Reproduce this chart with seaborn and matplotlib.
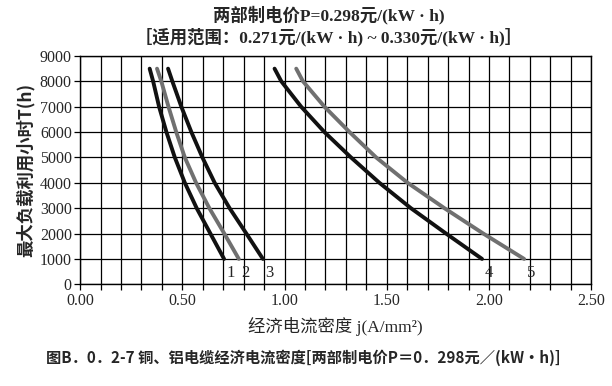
import numpy as np
import pandas as pd
import matplotlib
matplotlib.use("Agg")
import matplotlib.pyplot as plt
import seaborn as sns
from matplotlib.ticker import MultipleLocator

# hours (y) shared by every curve
hours = [8500, 8000, 7000, 6000, 5000, 4000, 3000, 2000, 1000]

# current density j for each curve
curve1 = [0.340, 0.357, 0.386, 0.422, 0.463, 0.512, 0.570, 0.637, 0.704]
curve2 = [0.376, 0.397, 0.432, 0.470, 0.512, 0.567, 0.632, 0.705, 0.776]
curve3 = [0.430, 0.451, 0.495, 0.544, 0.598, 0.658, 0.731, 0.813, 0.894]
curve4 = [0.951, 0.984, 1.081, 1.195, 1.325, 1.464, 1.618, 1.790, 1.966]
curve5 = [1.057, 1.090, 1.195, 1.318, 1.448, 1.602, 1.782, 1.972, 2.172]

curve_names = ["1", "2", "3", "4", "5"]
curve_colors = {"1": "#111111", "2": "#707070", "3": "#111111", "4": "#111111", "5": "#707070"}

rows = []
for name, vals in zip(curve_names, [curve1, curve2, curve3, curve4, curve5]):
    for j, h in zip(vals, hours):
        rows.append({"curve": name, "j": j, "T": h})
df = pd.DataFrame(rows)

sns.set_style("ticks")
plt.rcParams['font.family'] = ['Liberation Serif', 'Noto Sans CJK SC']

fig = plt.figure(figsize=(6.12, 3.86), dpi=100)
ax = fig.add_axes([0.131, 0.2635, 0.835, 0.5915])

sns.lineplot(data=df, x="j", y="T", hue="curve", palette=curve_colors,
             linewidth=2.8, legend=False, ax=ax, estimator=None, sort=True)

ax.set_xlim(0, 2.5)
ax.set_ylim(0, 9000)
ax.xaxis.set_major_locator(MultipleLocator(0.5))
ax.xaxis.set_minor_locator(MultipleLocator(0.1))
ax.yaxis.set_major_locator(MultipleLocator(1000))
ax.xaxis.set_major_formatter(plt.FormatStrFormatter("%.2f"))
ax.grid(True, which="both", axis="x", color="black", linewidth=0.9)
ax.grid(True, which="major", axis="y", color="black", linewidth=0.9)
ax.set_axisbelow(True)
ax.tick_params(axis="both", which="both", direction="out", length=4, width=0.9,
               color="black", labelsize=11.5, pad=2)
for s in ax.spines.values():
    s.set_color("black")
    s.set_linewidth(1.0)

# curve numbers under each curve end
for name, vals in zip(curve_names, [curve1, curve2, curve3, curve4, curve5]):
    ax.text(vals[-1] + 0.012, 450, name, fontsize=12, ha="left", va="center")

ax.set_xlabel("经济电流密度 j(A/mm²)", fontsize=12.5, labelpad=6)
ax.set_ylabel("最大负载利用小时T(h)", fontsize=12.5, labelpad=4,
              family=['Noto Sans CJK SC', 'DejaVu Sans'], fontweight="bold")

fig.text(0.537, 0.961, "两部制电价P=0.298元/(kW · h)", ha="center", va="center",
         fontsize=12.5, fontweight="bold")
fig.text(0.537, 0.905, "［适用范围：0.271元/(kW · h) ~ 0.330元/(kW · h)］", ha="center",
         va="center", fontsize=12.5, fontweight="bold")
fig.text(0.495, 0.072, "图B．0．2-7 铜、铝电缆经济电流密度[两部制电价P＝0．298元／(kW•h)]",
         ha="center", va="center", fontsize=11, fontweight="bold",
         family=['Noto Sans CJK SC', 'DejaVu Sans'])

fig.savefig("out.png", dpi=100)
